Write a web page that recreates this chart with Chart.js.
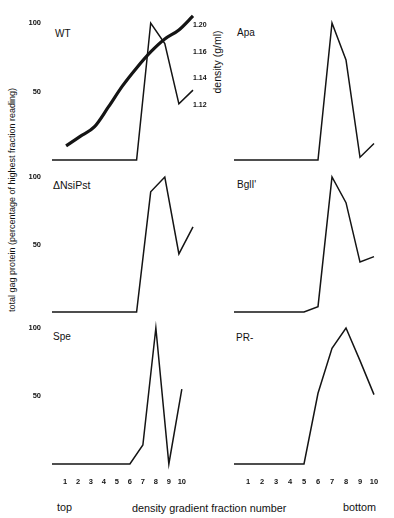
<!DOCTYPE html>
<html>
<head>
<meta charset="utf-8">
<script src="https://cdn.jsdelivr.net/npm/chart.js@4.4.1/dist/chart.umd.min.js"></script>
<style>
  body { margin: 0; background: #fff; width: 394px; height: 518px; position: relative; overflow: hidden;
         font-family: "Liberation Sans", Arial, sans-serif; color: #111; }
  canvas { position: absolute; }
  .lbl { position: absolute; white-space: nowrap; line-height: 1; }
  .rot { position: absolute; white-space: nowrap; line-height: 1; transform: translate(-50%, -50%) rotate(-90deg); }
</style>
</head>
<body>
<div class="lbl" style="left:55px;top:28.5px;font-size:10px">WT</div>
<div class="lbl" style="left:237px;top:27.5px;font-size:10px">Apa</div>
<div class="lbl" style="left:53px;top:179.5px;font-size:10.5px">&Delta;NsiPst</div>
<div class="lbl" style="left:237px;top:179.5px;font-size:10px">BglI'</div>
<div class="lbl" style="left:53px;top:331.5px;font-size:10px">Spe</div>
<div class="lbl" style="left:236px;top:332.5px;font-size:10px">PR-</div>
<div class="rot" style="left:217px;top:62px;font-size:10.5px">density (g/ml)</div>
<div class="rot" style="left:12px;top:200px;font-size:9px">total gag protein (percentage of highest fraction reading)</div>
<div class="lbl" style="left:57px;top:502px;font-size:10.8px">top</div>
<div class="lbl" style="left:132px;top:502.5px;font-size:10.8px">density gradient fraction number</div>
<div class="lbl" style="left:343px;top:502px;font-size:10.8px">bottom</div>

<script>
/* ==========================
   Dados
   ========================== */
// frações 0..10 (o traço começa um passo antes da fração 1)
const fracoes = [0, 1, 2, 3, 4, 5, 6, 7, 8, 9, 10];
const xTickLabels = ["1", "2", "3", "4", "5", "6", "7", "8", "9", "10"];
const yTickLabels = ["50", "100"];

const wt     = [0, 0, 0, 0, 0, 0, 0, 100, 85, 41, 51];
const apa    = [0, 0, 0, 0, 0, 0, 0, 100, 73, 2, 12];
const nsiPst = [0, 0, 0, 0, 0, 0, 0, 89, 100, 43, 63];
const bglI   = [0, 0, 0, 0, 0, 0, 4, 100, 81, 37, 41];
const spe    = [0, 0, 0, 0, 0, 0, 0, 14, 100, 0, 55];
const prMinus = [0, 0, 0, 0, 0, 0, 52, 85, 100, 76, 51];

// densidade (g/ml) da fração, só WT
const wtDensity = [null, 1.0893, 1.0964, 1.1035, 1.1185, 1.1343, 1.1478, 1.1598, 1.1695, 1.1763, 1.1868];
const densityTicks = [1.12, 1.14, 1.16, 1.18];
const densityTickLabels = ["1.12", "1.14", "1.16", "1.20"]; // como impresso
const DENS_MIN = 1.0787;
const DENS_MAX = 1.1815;

/* --------------------------
   Geometria dos painéis
   -------------------------- */
const ROWS = [
  { top: 23, bottom: 160 },
  { top: 177, bottom: 312 },
  { top: 328, bottom: 464 },
];
const COLS = [
  { left: 52, right: 193 },
  { left: 234, right: 374 },
];
// o eixo y soma o padding dos ticks às margens, então deixo folga maior
const PAD_T = 18;
const PAD_B = 18;
const X_AXIS_H = 26;
const INK = "#141414";

function pontos(serie) {
  return fracoes.map((f, i) => ({ x: f, y: serie[i] }));
}

function painel(serie, row, col, extra) {
  const r = ROWS[row], c = COLS[col];
  const bottomRow = row === 2;
  const padB = bottomRow ? 0 : PAD_B;
  const rightW = extra ? 36 : (col === 0 ? 6 : 20);
  const leftW = col === 0 ? c.left : 10;
  const canvasLeft = c.left - leftW;
  const w = leftW + (c.right - c.left) + rightW;
  const h = PAD_T + (r.bottom - r.top) + (bottomRow ? X_AXIS_H : padB);

  const cv = document.createElement("canvas");
  cv.width = w; cv.height = h;
  cv.style.left = canvasLeft + "px";
  cv.style.top = (r.top - PAD_T) + "px";
  cv.style.width = w + "px"; cv.style.height = h + "px";
  document.body.appendChild(cv);

  const datasets = [{
    data: pontos(serie), yAxisID: "y", borderColor: INK, borderWidth: 1.5,
    pointRadius: 0, tension: 0, clip: false,
  }];
  const scales = {
    x: {
      type: "linear", min: 0, max: 10, display: bottomRow, offset: false,
      grid: { display: false, drawTicks: false }, border: { display: false },
      afterBuildTicks: (s) => { s.ticks = xTickLabels.map((v) => ({ value: +v })); },
      afterFit: (s) => { if (bottomRow) s.height = X_AXIS_H; },
      ticks: { color: INK, padding: 13, maxRotation: 0, autoSkip: false,
               font: { family: "Liberation Sans", size: 7.5, weight: "bold" } },
    },
    y: {
      min: 0, max: 100, display: col === 0,
      grid: { display: false, drawTicks: false }, border: { display: false },
      afterBuildTicks: (s) => { s.ticks = yTickLabels.map((v) => ({ value: +v })); },
      afterFit: (s) => { if (col === 0) s.width = c.left; },
      ticks: { color: INK, padding: 11,
               font: { family: "Liberation Sans", size: 7.5, weight: "bold" } },
    },
  };

  if (extra) {
    datasets.push({
      data: pontos(wtDensity), yAxisID: "y2", borderColor: INK, borderWidth: 3.2,
      pointRadius: 0, tension: 0.25, cubicInterpolationMode: "monotone", clip: false,
    });
    scales.y2 = {
      position: "right", min: DENS_MIN, max: DENS_MAX,
      grid: { display: false, drawTicks: false }, border: { display: false },
      afterBuildTicks: (s) => { s.ticks = densityTicks.map((v) => ({ value: v })); },
      afterFit: (s) => { s.width = 36; },
      ticks: { color: INK, padding: 0,
               font: { family: "Liberation Sans", size: 7, weight: "bold" },
               callback: (v, i) => densityTickLabels[i] },
    };
  }

  return new Chart(cv.getContext("2d"), {
    type: "line",
    data: { datasets },
    options: {
      responsive: false, animation: false, devicePixelRatio: 1,
      layout: { padding: { top: PAD_T, bottom: padB, left: col === 0 ? 0 : leftW, right: extra ? 0 : rightW } },
      plugins: { legend: { display: false }, tooltip: { enabled: false }, title: { display: false } },
      scales,
    },
  });
}

painel(wt, 0, 0, true);
painel(apa, 0, 1);
painel(nsiPst, 1, 0);
painel(bglI, 1, 1);
painel(spe, 2, 0);
painel(prMinus, 2, 1);
</script>
</body>
</html>
